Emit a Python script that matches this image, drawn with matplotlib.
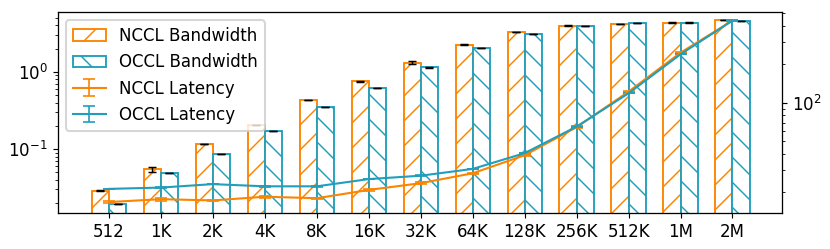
import matplotlib
matplotlib.use("Agg")
import matplotlib.pyplot as plt
import numpy as np

sizes = ["512", "1K", "2K", "4K", "8K", "16K", "32K", "64K", "128K", "256K", "512K", "1M", "2M"]
nccl_bw = [0.0289, 0.0551, 0.116, 0.206, 0.430, 0.751, 1.32, 2.24, 3.26, 3.98, 4.18, 4.36, 4.67]
occl_bw = [0.0196, 0.049, 0.0869, 0.1725, 0.349, 0.615, 1.15, 2.04, 3.10, 3.90, 4.27, 4.36, 4.57]
nccl_bw_err = [0.0002, 0.004, 0.0008, 0.002, 0.004, 0.012, 0.07, 0.04, 0.02, 0.02, 0.02, 0.02, 0.02]
occl_bw_err = [0.0001, 0.0004, 0.0007, 0.0015, 0.002, 0.004, 0.01, 0.015, 0.015, 0.02, 0.02, 0.02, 0.02]
nccl_lat = [16.8, 17.7, 17.3, 18.5, 18.0, 20.9, 23.6, 28.2, 39.0, 64.6, 122.5, 247, 440]
occl_lat = [21.3, 21.8, 23.2, 22.3, 22.3, 25.4, 27.0, 30.5, 40.5, 65.3, 119, 240, 440]
nccl_lat_err = [0.2, 0.5, 0.2, 0.3, 0.2, 0.3, 0.3, 0.3, 0.3, 0.5, 0.6, 0.8, 1.0]
occl_lat_err = [0.1, 0.1, 0.1, 0.1, 0.1, 0.1, 0.1, 0.2, 0.2, 0.3, 0.5, 0.8, 1.0]

orange = "#fb8500"
blue = "#219ebc"

plt.rcParams.update({
    "font.size": 8,
    "axes.linewidth": 0.55,
    "xtick.major.size": 2.33, "ytick.major.size": 2.33,
    "xtick.minor.size": 1.33, "ytick.minor.size": 1.33,
    "xtick.major.width": 0.55, "ytick.major.width": 0.55,
    "xtick.minor.width": 0.4, "ytick.minor.width": 0.4,
    "xtick.major.pad": 2.3, "ytick.major.pad": 2.3,
    "hatch.linewidth": 0.7,
})

fig = plt.figure(figsize=(830 / 150, 249 / 150), dpi=150)
ax = fig.add_axes([0.0693, 0.1446, 0.8727, 0.8074])
x = np.arange(len(sizes))
w = 0.33

b1 = ax.bar(x - w / 2, nccl_bw, w, yerr=nccl_bw_err, facecolor="white", edgecolor=orange,
            hatch="//", linewidth=0.9, label="NCCL Bandwidth",
            error_kw=dict(ecolor="black", capsize=2.0, elinewidth=0.7, capthick=0.7))
b2 = ax.bar(x + w / 2, occl_bw, w, yerr=occl_bw_err, facecolor="white", edgecolor=blue,
            hatch="\\\\", linewidth=0.9, label="OCCL Bandwidth",
            error_kw=dict(ecolor="black", capsize=2.0, elinewidth=0.7, capthick=0.7))
ax.set_yscale("log")
ax.set_ylim(0.01485, 5.98)
ax.set_xlim(-0.99, 12.95)
ax.set_xticks(x)
ax.set_xticklabels(sizes)

ax2 = ax.twinx()
e1 = ax2.errorbar(x, nccl_lat, yerr=nccl_lat_err, color=orange, lw=1.0, capsize=3,
                  capthick=0.8, elinewidth=0.8, label="NCCL Latency")
e2 = ax2.errorbar(x, occl_lat, yerr=occl_lat_err, color=blue, lw=1.0, capsize=3,
                  capthick=0.8, elinewidth=0.8, label="OCCL Latency")
ax2.set_yscale("log")
ax2.set_ylim(13.8, 514)

ax2.legend([b1, b2, e1, e2], ["NCCL Bandwidth", "OCCL Bandwidth", "NCCL Latency", "OCCL Latency"],
           loc="upper left")

fig.savefig("out.png", dpi=150)
